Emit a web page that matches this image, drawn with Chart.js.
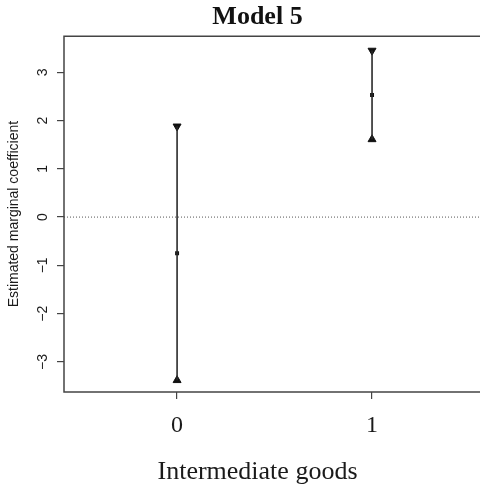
<!DOCTYPE html>
<html>
<head>
<meta charset="utf-8">
<script src="https://cdn.jsdelivr.net/npm/chart.js@4.4.1/dist/chart.umd.min.js"></script>
<style>
  html, body { margin: 0; padding: 0; background: #fff; overflow: hidden; }
  #wrap { width: 480px; height: 488px; position: relative; }
</style>
</head>
<body>
<div id="wrap"><canvas id="c"></canvas></div>
<script>
// ---- data ----
const categories = [0, 1];
const xTickLabels = ['0', '1'];
const estimates = [-0.75, 2.53];
const upperBounds = [1.88, 3.45];
const lowerBounds = [-3.38, 1.61];
const yTickValues = [-3, -2, -1, 0, 1, 2, 3];

const titleText = 'Model 5';
const xTitle = 'Intermediate goods';
const yTitle = 'Estimated marginal coefficient';

const X_MIN = -0.58, X_MAX = 1.405;
const Y_MIN = -3.623, Y_MAX = 3.747;

const ink = '#1a1a1a';

const datasets = [];
categories.forEach((c, i) => {
  datasets.push({
    type: 'line',
    data: [{x: c, y: lowerBounds[i]}, {x: c, y: upperBounds[i]}],
    borderColor: '#2a2a2a', borderWidth: 1.6, pointRadius: 0, fill: false
  });
});
datasets.push({
  type: 'scatter',
  data: categories.map((c, i) => ({x: c, y: upperBounds[i]})),
  pointStyle: 'triangle', rotation: 180, pointRadius: 4.6,
  backgroundColor: '#111', borderColor: '#111', borderWidth: 1
});
datasets.push({
  type: 'scatter',
  data: categories.map((c, i) => ({x: c, y: lowerBounds[i]})),
  pointStyle: 'triangle', rotation: 0, pointRadius: 4.6,
  backgroundColor: '#111', borderColor: '#111', borderWidth: 1
});
datasets.push({
  type: 'scatter',
  data: categories.map((c, i) => ({x: c, y: estimates[i]})),
  pointStyle: 'rect', pointRadius: 2.8,
  backgroundColor: '#111', borderColor: '#111', borderWidth: 0
});
// horizontal reference line at zero
datasets.push({
  type: 'line',
  data: [{x: X_MIN, y: 0}, {x: 2.0, y: 0}],
  borderColor: '#555', borderWidth: 1, borderDash: [1, 2],
  pointRadius: 0, fill: false, clip: false
});

const boxPlugin = {
  id: 'rbox',
  afterDatasetsDraw(chart) {
    const {ctx, chartArea: a, width} = chart;
    ctx.save();
    ctx.strokeStyle = '#444';
    ctx.lineWidth = 1.5;
    ctx.beginPath();
    ctx.moveTo(width + 5, a.top);
    ctx.lineTo(a.left, a.top);
    ctx.lineTo(a.left, a.bottom);
    ctx.lineTo(width + 5, a.bottom);
    ctx.stroke();
    ctx.restore();
  }
};

new Chart(document.getElementById('c'), {
  type: 'scatter',
  data: { datasets },
  options: {
    responsive: true,
    maintainAspectRatio: false,
    animation: false,
    layout: { padding: { left: 0, right: 29, top: 0, bottom: 0 } },
    plugins: {
      legend: { display: false },
      tooltip: { enabled: false },
      title: {
        display: true, text: titleText, fullSize: false, color: '#111',
        font: { family: 'Liberation Serif', size: 26, weight: 'bold' },
        padding: { top: 2, bottom: 3 }
      }
    },
    scales: {
      x: {
        type: 'linear', min: X_MIN, max: X_MAX,
        afterBuildTicks: s => { s.ticks = categories.map(v => ({value: v})); },
        afterFit: s => { s.height = 96; },
        ticks: {
          callback: (v) => xTickLabels[categories.indexOf(v)],
          color: ink, padding: 12,
          font: { family: 'Liberation Serif', size: 24 }
        },
        grid: { drawOnChartArea: false, drawTicks: true, tickLength: 7, color: '#444', lineWidth: 1.2 },
        border: { display: false },
        title: {
          display: true, text: xTitle, color: ink,
          font: { family: 'Liberation Serif', size: 26 },
          padding: { top: 0, bottom: 0 }
        }
      },
      y: {
        type: 'linear', min: Y_MIN, max: Y_MAX,
        afterBuildTicks: s => { s.ticks = yTickValues.map(v => ({value: v})); },
        afterFit: s => { s.width = 64; },
        ticks: {
          callback: v => (v < 0 ? '\u2212' + Math.abs(v) : String(v)),
          color: ink, padding: 6, minRotation: 90, maxRotation: 90,
          crossAlign: 'center',
          font: { family: 'Liberation Sans', size: 14 }
        },
        grid: { drawOnChartArea: false, drawTicks: true, tickLength: 7, color: '#444', lineWidth: 1.2 },
        border: { display: false },
        title: {
          display: true, text: yTitle, color: ink,
          font: { family: 'Liberation Sans', size: 14 },
          padding: { top: 6, bottom: 0 }
        }
      }
    }
  },
  plugins: [boxPlugin]
});
</script>
</body>
</html>
